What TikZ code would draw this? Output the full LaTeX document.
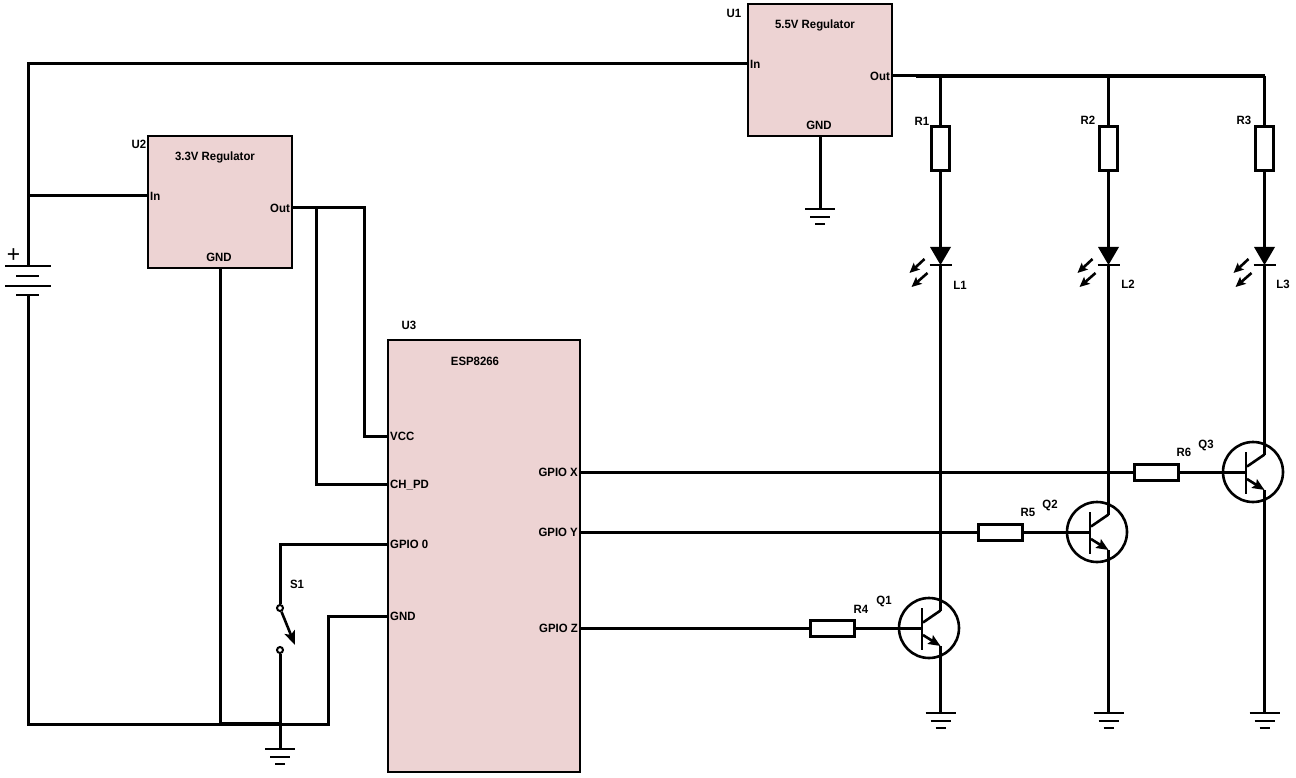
\documentclass[tikz,border=0pt]{standalone}
\usepackage{fontspec}
\setmainfont{Liberation Sans}[FakeStretch=0.95,BoldFont={Liberation Sans Bold}]
\usetikzlibrary{arrows.meta}
\definecolor{chipfill}{HTML}{EDD3D3}
\tikzset{
  wire/.style={line width=3pt},
  chipbox/.style={draw,line width=1.6pt,fill=chipfill,inner sep=0},
  resbox/.style={draw,line width=3pt,fill=white,inner sep=0},
  txt/.style={inner sep=0,font=\fontsize{12}{14}\selectfont\bfseries,text height=8.6pt,text depth=0pt},
  pinl/.style={txt,inner sep=2pt,anchor=west},
  pinr/.style={txt,inner sep=2pt,anchor=east},
  gnd/.pic={
    \coordinate (-t) at (0,0);
    \draw[line width=2.8pt] (-15,0) -- (15,0);
    \draw[line width=2.8pt] (-10,8) -- (10,8);
    \draw[line width=2.8pt] (-5,15) -- (5,15);
  },
  led/.pic={
    \coordinate (-a) at (0,-18);
    \coordinate (-k) at (0,0);
    \fill (-10.5,-18) -- (10.5,-18) -- (0,0) -- cycle;
    \draw[line width=2.6pt] (-11,0) -- (11,0);
    \draw[line width=2.6pt,-{Stealth[length=10pt,width=9pt,inset=2pt]}] (-16,-6) -- (-31,8);
    \draw[line width=2.6pt,-{Stealth[length=10pt,width=9pt,inset=2pt]}] (-13,8) -- (-29,22);
  },
  npn/.pic={
    \coordinate (-b) at (-7,0);
    \coordinate (-c) at (11.5,-17.5);
    \coordinate (-e) at (11.5,18);
    \draw[line width=2.6pt] (0,0) circle (30pt);
    \draw[line width=2.6pt] (-7,-20) -- (-7,22);
    \draw[line width=2.6pt] (-6,-5.5) -- (-c);
    \draw[line width=2.6pt,-{Stealth[length=12pt,width=10pt,inset=2pt]}] (-6,7) -- (-e);
  },
}

\begin{document}
\begin{tikzpicture}[x=1pt,y=-1pt]
  \useasboundingbox (0,0) rectangle (1296,778);
  % chips
  \node[chipbox,minimum width=144pt,minimum height=132pt] (U1box) at (820,70) {};
  \node[chipbox,minimum width=144pt,minimum height=132pt] (U2box) at (220,202) {};
  \node[chipbox,minimum width=192pt,minimum height=432pt] (U3box) at (484,556) {};
  \node[txt] (U1) at (734,13) {U1};
  \node[txt] (U2) at (139,144) {U2};
  \node[txt] (U3) at (409,325) {U3};
  \node[txt] (U1name) at (815,24) {5.5V Regulator};
  \node[txt] (U2name) at (215,156) {3.3V Regulator};
  \node[txt] (U3name) at (475,361) {ESP8266};
  \node[pinl] (U1in) at (748,64) {In};
  \node[pinr] (U1out) at (892,76) {Out};
  \node[txt] (U1gnd) at (819,125) {GND};
  \node[pinl] (U2in) at (148,196) {In};
  \node[pinr] (U2out) at (292,208) {Out};
  \node[txt] (U2gnd) at (219,257) {GND};
  \node[pinl] (vcc) at (388,436) {VCC};
  \node[pinl] (chpd) at (388,484) {CH\_PD};
  \node[pinl] (gpio0) at (388,544) {GPIO 0};
  \node[pinl] (U3gnd) at (388,616) {GND};
  \node[pinr] (gpiox) at (580,472) {GPIO X};
  \node[pinr] (gpioy) at (580,532) {GPIO Y};
  \node[pinr] (gpioz) at (580,628) {GPIO Z};
  % resistors
  \node[resbox,minimum width=18pt,minimum height=44pt] (R1) at (940.5,149) {};
  \node[resbox,minimum width=18pt,minimum height=44pt] (R2) at (1108.5,149) {};
  \node[resbox,minimum width=18pt,minimum height=44pt] (R3) at (1264.5,149) {};
  \node[resbox,minimum width=44pt,minimum height=16pt] (R4) at (832,628) {};
  \node[resbox,minimum width=44pt,minimum height=16pt] (R5) at (1000,532) {};
  \node[resbox,minimum width=44pt,minimum height=16pt] (R6) at (1156,472) {};
  \node[txt] (R1name) at (922,121) {R1};
  \node[txt] (R2name) at (1088,120) {R2};
  \node[txt] (R3name) at (1244,120) {R3};
  \node[txt] (R4name) at (861,609) {R4};
  \node[txt] (R5name) at (1028,512) {R5};
  \node[txt] (R6name) at (1184,452) {R6};
  % leds, transistors
  \pic (led1) at (940.5,265) {led};
  \pic (led2) at (1108.5,265) {led};
  \pic (led3) at (1264.5,265) {led};
  \node[txt] (L1) at (960,285) {L1};
  \node[txt] (L2) at (1128,284) {L2};
  \node[txt] (L3) at (1283,284) {L3};
  \pic (q1) at (929,628) {npn};
  \pic (q2) at (1097,532) {npn};
  \pic (q3) at (1253,472) {npn};
  \node[txt] (Q1) at (884,600) {Q1};
  \node[txt] (Q2) at (1050,504) {Q2};
  \node[txt] (Q3) at (1206,444) {Q3};
  % grounds
  \pic (g1) at (820,209) {gnd};
  \pic (g2) at (280,749) {gnd};
  \pic (g3) at (940.5,713) {gnd};
  \pic (g4) at (1108.5,713) {gnd};
  \pic (g5) at (1264.5,713) {gnd};
  % battery
  \coordinate (batp) at (28,266);
  \coordinate (batn) at (28,295);
  \draw[line width=2.6pt] (5,266) -- (51,266);
  \draw[line width=2.6pt] (16,276) -- (39,276);
  \draw[line width=2.6pt] (5,286) -- (51,286);
  \draw[line width=2.6pt] (16,295) -- (39,295);
  \node[inner sep=0,font=\fontsize{24}{24}\selectfont] (batplus) at (13.5,256) {+};
  % switch
  \node[circle,draw,line width=2pt,minimum size=6pt,inner sep=0] (S1a) at (280,608) {};
  \node[circle,draw,line width=2pt,minimum size=6pt,inner sep=0] (S1b) at (280,650) {};
  \coordinate (S1tip) at (295,645);
  \draw[line width=2.6pt,-{Stealth[length=14pt,width=11pt,inset=3pt]}] (S1a) -- (S1tip);
  \node[txt] (S1) at (297,584) {S1};
  % junctions
  \coordinate (topleft) at (28,64);
  \coordinate (j196) at (28,196);
  \coordinate (botleft) at (28,724);
  \coordinate (j220) at (220,724);
  \coordinate (j280) at (280,724);
  \coordinate (j328) at (328,724);
  \coordinate (j328t) at (328,616);
  \coordinate (j280t) at (280,544);
  \coordinate (j316) at (316,208);
  \coordinate (j316b) at (316,484);
  \coordinate (j364) at (364,208);
  \coordinate (j364b) at (364,436);
  \coordinate (rail1) at (940.5,76);
  \coordinate (rail2) at (1108.5,76);
  \coordinate (rail3) at (1264.5,76);
  % wires
  \draw[wire] (batp) -- (topleft) -- (U1in.west);
  \draw[wire] (j196) -- (U2in.west);
  \draw[wire] (batn) -- (botleft) -- (j328) -- (j328t) -- (U3gnd.west);
  \draw[wire] (U2box.south) -- (j220);
  \draw[wire] (U2out.east) -- (j364) -- (j364b) -- (vcc.west);
  \draw[wire] (j316) -- (j316b) -- (chpd.west);
  \draw[wire] (gpio0.west) -- (j280t) -- (S1a);
  \draw[wire] (S1b) -- (g2-t);
  \draw[wire] (U1box.south -| g1-t) -- (g1-t);
  \draw[wire] (U1out.east) -- (rail3);
  \draw[line width=3.6pt] (916,76) -- (rail3);
  \draw[line width=3.6pt] (j220) -- (j280);
  \draw[wire] (rail1) -- (R1.north);
  \draw[wire] (rail2) -- (R2.north);
  \draw[wire] (rail3) -- (R3.north);
  \draw[wire] (R1.south) -- (led1-a);
  \draw[wire] (R2.south) -- (led2-a);
  \draw[wire] (R3.south) -- (led3-a);
  \draw[wire] (led1-k) -- (q1-c);
  \draw[wire] (led2-k) -- (q2-c);
  \draw[wire] (led3-k) -- (q3-c);
  \draw[wire] (q1-e) -- (g3-t);
  \draw[wire] (q2-e) -- (g4-t);
  \draw[wire] (q3-e) -- (g5-t);
  \draw[wire] (gpioz.east) -- (R4.west);
  \draw[wire] (gpioy.east) -- (R5.west);
  \draw[wire] (gpiox.east) -- (R6.west);
  \draw[wire] (R4.east) -- (q1-b);
  \draw[wire] (R5.east) -- (q2-b);
  \draw[wire] (R6.east) -- (q3-b);
\end{tikzpicture}
\end{document}
